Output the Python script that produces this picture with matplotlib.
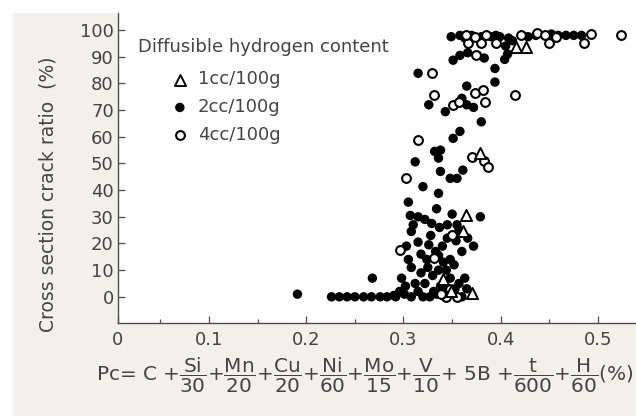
import matplotlib
matplotlib.use('Agg')
import matplotlib.pyplot as plt
from matplotlib.patches import Rectangle

# carbon equivalent Pc (%) vs. cross section crack ratio (%)
h1_pc = [0.341, 0.349, 0.370, 0.361, 0.364, 0.379, 0.416, 0.426]
h1_crack = [6.5, 2, 1.5, 24.5, 30.5, 54, 93.5, 93.5]

h2_pc = [0.191, 0.226, 0.234, 0.242, 0.250, 0.259, 0.267, 0.276, 0.283, 0.268, 0.292,
         0.290, 0.301, 0.308, 0.315, 0.327, 0.334, 0.353, 0.360, 0.298, 0.322, 0.363,
         0.348, 0.308, 0.336, 0.324, 0.348, 0.336, 0.360, 0.302, 0.340, 0.318,
         0.312, 0.330, 0.344, 0.352, 0.318, 0.340, 0.354, 0.328, 0.345, 0.322, 0.350,
         0.310, 0.338, 0.357, 0.305, 0.331, 0.346, 0.320, 0.296, 0.325, 0.341, 0.365,
         0.372, 0.333,
         0.303, 0.315, 0.326, 0.345, 0.308, 0.366, 0.355, 0.329, 0.315, 0.307, 0.379,
         0.334, 0.305, 0.357, 0.337,
         0.320, 0.336, 0.338, 0.348, 0.355, 0.361, 0.312, 0.336, 0.332, 0.338, 0.351, 0.358,
         0.380, 0.326, 0.343, 0.360, 0.365, 0.372, 0.365, 0.315, 0.394, 0.351, 0.358,
         0.366, 0.376, 0.383, 0.394, 0.407, 0.405, 0.404,
         0.349, 0.358, 0.370, 0.380, 0.390, 0.399, 0.408, 0.412, 0.459, 0.467, 0.475,
         0.483, 0.452, 0.436, 0.363, 0.395, 0.428]
h2_crack = [1, 0, 0, 0, 0, 0, 0, 0, 0, 7, 0,
            0.5, 1, 0, 2, 0, 1, 3, 0, 7, 5, 7,
            7, 11, 10, 14, 14, 15.5, 17, 4, 3, 9,
            5, 8, 10, 12, 16, 19, 21, 23, 27, 29, 31,
            27, 4, 5, 14, 2, 1, 0, 2, 11, 13, 3,
            19, 17,
            19, 20.5, 19.5, 22, 24.5, 22, 27, 27.5, 30, 30.5, 30,
            33, 35.5, 25, 26,
            41.3, 38.8, 47, 44.4, 44.4, 47.5, 50.6, 52, 54.5, 55, 59.4, 62,
            65.6, 72, 69.4, 74.4, 72, 71, 79, 83.8, 80.5, 88.7, 90.5,
            91.5, 90.5, 89.5, 85.6, 91, 94, 89,
            97.5, 98, 98, 97.5, 97.5, 97.5, 97, 96, 98, 98, 98,
            98, 98.5, 98, 97, 98, 97.5]

h4_pc = [0.296, 0.331, 0.344, 0.339, 0.355, 0.348, 0.350, 0.303, 0.370, 0.383, 0.387,
         0.315, 0.331, 0.351, 0.357, 0.373, 0.382, 0.384, 0.415, 0.329, 0.375, 0.366,
         0.380, 0.364, 0.374, 0.385, 0.395, 0.421, 0.437, 0.445, 0.450, 0.457, 0.486,
         0.493, 0.524]
h4_crack = [17.5, 14.5, 0, 1, 0, 3, 23, 44.4, 52.5, 51, 48.8,
            58.8, 75.6, 72, 73, 76.5, 77.5, 73.2, 75.6, 83.8, 90.5, 95,
            95, 98, 97.5, 98, 95, 98, 99, 98, 95, 97.5, 95,
            98.5, 98]

x_ticks = [0.1, 0.2, 0.3, 0.4, 0.5]
y_ticks = [0, 10, 20, 30, 40, 50, 60, 70, 80, 90, 100]

plt.rcParams['font.family'] = 'DejaVu Sans'
plt.rcParams['mathtext.fontset'] = 'dejavusans'

txt = '#444444'
axc = '#4d4d4d'

fig = plt.figure(figsize=(6.36, 4.16), dpi=100, facecolor='white')
fig.patches.append(Rectangle((0.0204, 0), 0.98, 0.96875, transform=fig.transFigure,
                             facecolor='#f3f0e9', edgecolor='none', zorder=-10))

ax = fig.add_axes([0.1855, 0.2243, 0.8145, 0.7445])
ax.set_facecolor('white')

x0 = 0.0065
ax.set_xlim(x0, 0.539)
ax.set_ylim(-9.7, 106.4)

dots = ax.scatter(h2_pc, h2_crack, s=46, color='black', edgecolors='none', zorder=3,
                  label='2cc/100g')
rings = ax.scatter(h4_pc, h4_crack, s=40, facecolors='white', edgecolors='black',
                   linewidths=1.5, zorder=4, label='4cc/100g')
tris = ax.scatter(h1_pc, h1_crack, s=64, marker='^', facecolors='white',
                  edgecolors='black', linewidths=1.4, zorder=5, label='1cc/100g')

for s in ['top', 'right']:
    ax.spines[s].set_visible(False)
for s in ['left', 'bottom']:
    ax.spines[s].set_color(axc)
    ax.spines[s].set_linewidth(1.0)

ax.set_xticks([x0] + x_ticks, ['0'] + [str(v) for v in x_ticks])
ax.set_xticks([0.05, 0.15, 0.25, 0.35, 0.45], minor=True)
ax.set_yticks(y_ticks, [str(v) for v in y_ticks])
ax.tick_params(axis='both', which='major', direction='in', length=5, width=0.9,
               color=axc, labelcolor=txt, labelsize=13)
ax.tick_params(axis='x', which='major', pad=6)
ax.tick_params(axis='y', which='major', pad=3)
ax.tick_params(axis='x', which='minor', direction='in', length=3, width=0.9, color=axc)

ax.text(0.0386, 0.89, 'Diffusible hydrogen content', transform=ax.transAxes,
        fontsize=13, color=txt, va='center', ha='left')
ax.legend(handles=[tris, dots, rings], loc='upper left', bbox_to_anchor=(0.102, 0.815),
          frameon=False, fontsize=13, handlelength=1.0, handletextpad=0.5,
          labelspacing=0.55, borderpad=0, borderaxespad=0, labelcolor=txt)

fig.text(48 / 636, 1 - 194 / 416, 'Cross section crack ratio  (%)', rotation=90,
         fontsize=13.5, color=txt, ha='center', va='center')

formula = (r'Pc= C +$\dfrac{\mathrm{Si}}{30}$+$\dfrac{\mathrm{Mn}}{20}$+'
           r'$\dfrac{\mathrm{Cu}}{20}$+$\dfrac{\mathrm{Ni}}{60}$+$\dfrac{\mathrm{Mo}}{15}$+'
           r'$\dfrac{\mathrm{V}}{10}$+ 5B +$\dfrac{\mathrm{t}}{600}$+$\dfrac{\mathrm{H}}{60}$(%)')
fig.text(365 / 636, 1 - 375 / 416, formula, fontsize=14.4, color=txt,
         ha='center', va='center')

fig.savefig('out.png', dpi=100, facecolor=fig.get_facecolor())
